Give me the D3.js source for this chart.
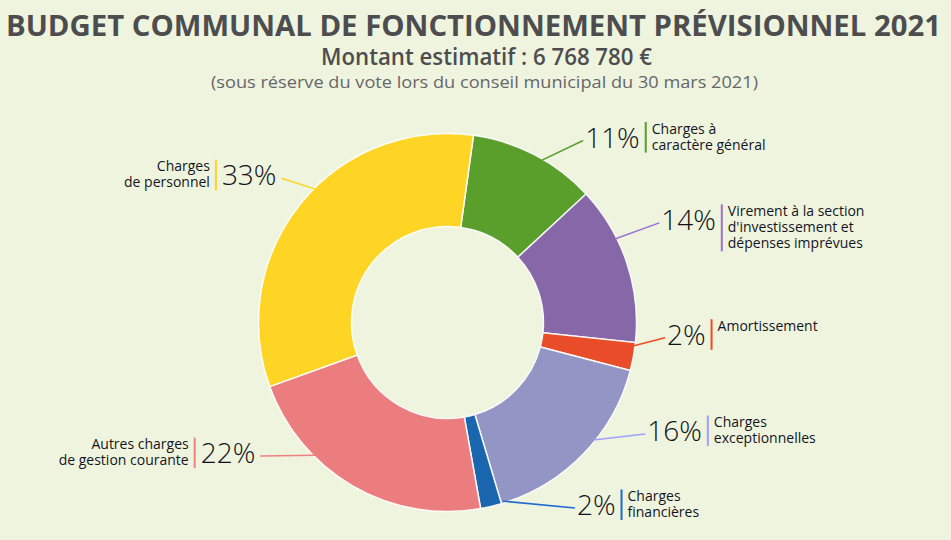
<!DOCTYPE html>
<html>
<head>
<meta charset="utf-8">
<script src="https://cdn.jsdelivr.net/npm/d3@7"></script>
<style>
  html, body { margin: 0; padding: 0; background: #eff4de; }
  svg { display: block; font-family: "Open Sans", sans-serif; }
</style>
</head>
<body>
<script>
// budget share per category, in percent
const categories = [
  "Charges à caractère général",
  "Virement à la section d'investissement et dépenses imprévues",
  "Amortissement",
  "Charges exceptionnelles",
  "Charges financières",
  "Autres charges de gestion courante",
  "Charges de personnel",
];
const labelLines = [
  ["Charges à", "caractère général"],
  ["Virement à la section", "d'investissement et", "dépenses imprévues"],
  ["Amortissement"],
  ["Charges", "exceptionnelles"],
  ["Charges", "financières"],
  ["Autres charges", "de gestion courante"],
  ["Charges", "de personnel"],
];
const shares = [10.9, 13.6, 2.4, 16.3, 1.8, 22.3, 32.7];

const sliceColors = ["#5a9e2b", "#8667a7", "#e84c28", "#9396c5", "#1a66ae", "#ec7d7f", "#fed425"];
const lineColors = ["#5a9e2b", "#9a72d0", "#f04a1d", "#a0a0ff", "#1e6ad0", "#f08080", "#fed425"];

// leader layout: where each line leaves the ring (angle, degrees from top)
// and where it ends ([angle, radius])
const leaderStart = [30, 63.5, 97.2, 128.9, 162.8, 224.8, 315.4];
const labelAnchors = [[36.7, 227], [64.8, 234], [94, 218], [119.4, 227], [145.5, 225], [234.5, 230], [311, 220]];

const width = 951, height = 540;
const cx = 447.5, cy = 322.5;
const outerR = 189, innerR = 96;
const startAngle = 7.9 * Math.PI / 180;
const rad = (deg) => deg * Math.PI / 180;

const svg = d3.select("body").append("svg")
  .attr("width", width)
  .attr("height", height);

svg.append("rect").attr("width", width).attr("height", height).attr("fill", "#eff4de");

// titles
svg.append("text")
  .attr("x", 6).attr("y", 36)
  .attr("textLength", 935).attr("lengthAdjust", "spacingAndGlyphs")
  .attr("font-size", 28).attr("font-weight", 700).attr("fill", "#4d4d4f")
  .text("BUDGET COMMUNAL DE FONCTIONNEMENT PRÉVISIONNEL 2021");

svg.append("text")
  .attr("x", 321).attr("y", 65)
  .attr("textLength", 331).attr("lengthAdjust", "spacingAndGlyphs")
  .attr("font-size", 23).attr("font-weight", 600).attr("fill", "#4d4d4f")
  .text("Montant estimatif : 6 768 780 €");

svg.append("text")
  .attr("x", 211).attr("y", 88)
  .attr("textLength", 547).attr("lengthAdjust", "spacingAndGlyphs")
  .attr("font-size", 17).attr("fill", "#66666a")
  .text("(sous réserve du vote lors du conseil municipal du 30 mars 2021)");

// donut
const pie = d3.pie().sort(null)
  .startAngle(startAngle)
  .endAngle(startAngle + 2 * Math.PI)
  .value((d) => d);

const arcs = pie(shares);
const arc = d3.arc().innerRadius(innerR).outerRadius(outerR);

const g = svg.append("g").attr("transform", `translate(${cx},${cy})`);

g.selectAll("path")
  .data(arcs)
  .join("path")
  .attr("d", arc)
  .attr("fill", (d, i) => sliceColors[i])
  .attr("stroke", "#ffffff")
  .attr("stroke-width", 1.5)
  .attr("stroke-opacity", 0.9);

const polar = (a, r) => [r * Math.sin(a), -r * Math.cos(a)];

// leader lines and labels
arcs.forEach((d, i) => {
  const [x0, y0] = polar(rad(leaderStart[i]), outerR - 2);
  const [x1, y1] = polar(rad(labelAnchors[i][0]), labelAnchors[i][1]);
  const right = x1 > 0;

  g.append("line")
    .attr("x1", x0).attr("y1", y0)
    .attr("x2", x1).attr("y2", y1)
    .attr("stroke", lineColors[i])
    .attr("stroke-width", 1.5);

  const pct = g.append("text")
    .attr("x", right ? x1 + 2 : x1 - 5)
    .attr("y", y1 + 7)
    .attr("text-anchor", right ? "start" : "end")
    .attr("font-size", 28).attr("font-weight", 300).attr("fill", "#111118")
    .text(Math.round(d.data) + "%");

  const w = pct.node().getComputedTextLength();
  const barX = right ? x1 + 2 + w + 6 : x1 - 5 - w - 6;
  const barTop = y1 + 7 - 10.5 - 15;
  const lines = labelLines[i];
  const barH = Math.max(2, lines.length) * 16.3 - 2;

  g.append("rect")
    .attr("x", barX - 1).attr("y", barTop)
    .attr("width", 2).attr("height", barH)
    .attr("fill", lineColors[i]);

  const lab = g.append("text")
    .attr("text-anchor", right ? "start" : "end")
    .attr("font-size", 14).attr("fill", "#14141e");
  lab.selectAll("tspan")
    .data(lines)
    .join("tspan")
    .attr("x", right ? barX + 6 : barX - 6)
    .attr("y", (t, k) => barTop + 11.5 + k * 16.3)
    .text((t) => t);
});
</script>
</body>
</html>
